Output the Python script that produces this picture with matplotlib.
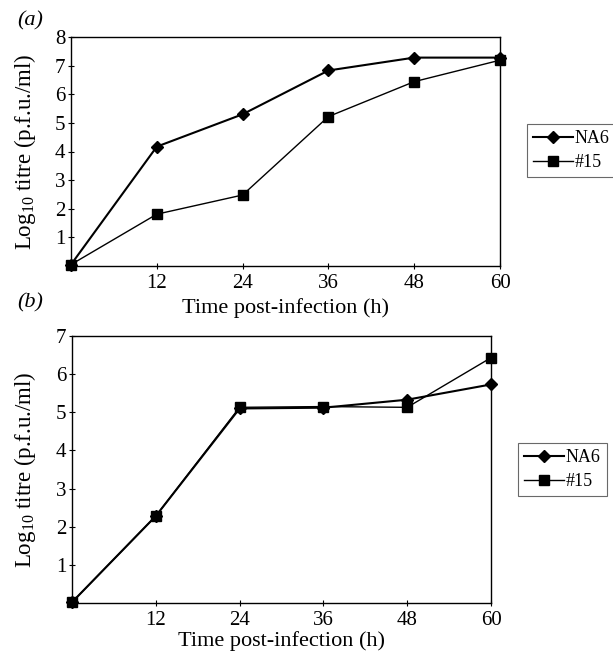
import matplotlib
matplotlib.use("Agg")
import matplotlib.pyplot as plt

plt.rcParams['font.family'] = ['Liberation Serif', 'DejaVu Serif']
plt.rcParams['mathtext.fontset'] = 'custom'
plt.rcParams['mathtext.rm'] = 'Liberation Serif'

time_h = [0, 12, 24, 36, 48, 60]
xtick_vals = [12, 24, 36, 48, 60]

a_na6 = [0.05, 4.17, 5.30, 6.83, 7.28, 7.28]
a_15 = [0.05, 1.81, 2.48, 5.22, 6.44, 7.19]
b_na6 = [0.02, 2.28, 5.10, 5.12, 5.33, 5.73]
b_15 = [0.02, 2.28, 5.13, 5.15, 5.13, 6.43]

W, H = 613, 653
fig = plt.figure(figsize=(W / 100, H / 100), dpi=100)

def setup(ax, ymax, na6, s15, legend_xy, left_px, width_px, xlabelpad):
    l1, = ax.plot(time_h, na6, color='black', lw=1.5, marker='D', ms=6,
                  mfc='black', mec='black', clip_on=False, zorder=3, label='NA6')
    l2, = ax.plot(time_h, s15, color='black', lw=1.0, marker='s', ms=7.5,
                  mfc='black', mec='black', clip_on=False, zorder=4, label='#15')
    ax.set_xlim(0, 60)
    ax.set_ylim(0, ymax)
    ax.set_xticks(xtick_vals)
    ax.set_yticks(list(range(1, ymax + 1)))
    ax.tick_params(axis='x', direction='inout', length=5, width=0.8, labelsize=15, pad=3)
    ax.tick_params(axis='y', direction='inout', length=4, width=0.8, labelsize=15, pad=2)
    for s in ax.spines.values():
        s.set_linewidth(1.0)
    ax.set_xlabel('Time post-infection (h)', fontsize=16, labelpad=xlabelpad)
    ax.set_ylabel(r'Log$_{10}$ titre (p.f.u./ml)', fontsize=16.5)
    ax.yaxis.set_label_coords((38 - left_px) / width_px, 0.5)
    leg = fig.legend(handles=[l1, l2], loc='center left', bbox_to_anchor=legend_xy,
                     fontsize=13, frameon=True, fancybox=False, handlelength=2.2,
                     handletextpad=0.1, borderpad=0.35, labelspacing=0.4,
                     borderaxespad=0)
    leg.get_frame().set_edgecolor('#444444')
    leg.get_frame().set_linewidth(0.8)

ax1 = fig.add_axes([71 / W, 1 - 266 / H, 429 / W, 229 / H])
setup(ax1, 8, a_na6, a_15, (527 / W, 1 - 150.5 / H), 71, 429, 4)
ax2 = fig.add_axes([72 / W, 1 - 603 / H, 419 / W, 267 / H])
setup(ax2, 7, b_na6, b_15, (518 / W, 1 - 469.5 / H), 72, 419, 1)

fig.text(17 / W, 1 - 21 / H, '(a)', fontsize=16, style='italic', ha='left', va='center')
fig.text(17 / W, 1 - 303 / H, '(b)', fontsize=16, style='italic', ha='left', va='center')

fig.savefig('out.png', dpi=100)
